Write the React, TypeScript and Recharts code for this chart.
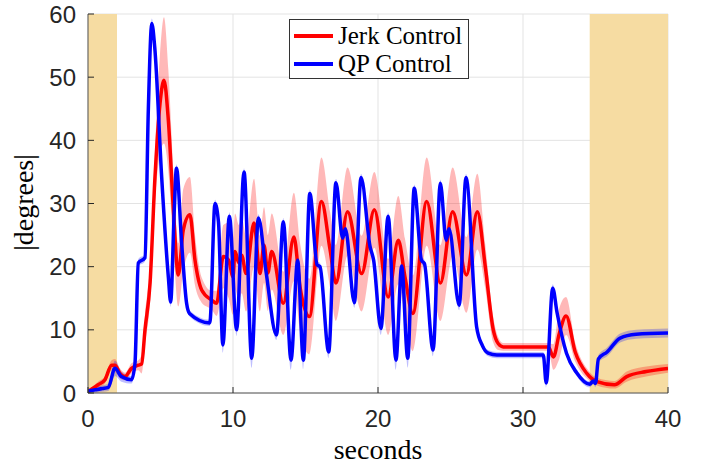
import React from 'react';
import { ComposedChart, Line, Area, XAxis, YAxis, CartesianGrid, ReferenceArea } from 'recharts';

// Jerk Control (red): time (s), |degrees|, band half-width
const redT = [0, 0.7, 1.17, 1.63, 1.86, 2.2, 2.55, 3.0, 3.47, 3.7, 3.93, 4.28, 4.62, 4.97, 5.24, 5.54, 5.89, 6.23, 6.57, 7.03, 7.38, 7.84, 8.53, 8.87, 9.33, 9.7, 10.0, 10.14, 10.4, 10.6, 10.9, 11.45, 11.86, 12.14, 12.4, 12.67, 13.47, 14.2, 14.62, 15.27, 16.1, 16.7, 17.1, 17.9, 18.87, 19.75, 20.7, 21.4, 21.86, 22.4, 23.36, 24.3, 25.15, 26.1, 26.85, 27.4, 27.95, 28.3, 28.64, 31.75, 32.1, 32.5, 32.97, 33.6, 34.4, 35.1, 36.3, 37.15, 38.5, 40];
const redV = [0.2, 1.3, 2.1, 4.4, 4.4, 3.1, 2.6, 3.9, 4.4, 4.6, 10, 17.4, 34.2, 45.9, 49.5, 43.2, 29, 18.7, 25.8, 28.2, 21, 16.3, 14.7, 14.2, 21.6, 21, 18.4, 22.4, 20.6, 21.8, 18.9, 26.9, 18.9, 23.4, 19, 22.4, 14.2, 24.7, 16.8, 12.1, 30.3, 22.6, 17.4, 28.7, 18.9, 29, 15.2, 24.2, 18.4, 12.6, 30.3, 17.4, 28.7, 18.7, 28.7, 20, 10, 7.8, 7.3, 7.3, 5.7, 9.4, 12.2, 6.5, 3.1, 1.8, 1.3, 2.6, 3.4, 3.9];
const redS = [0.3, 0.5, 0.6, 0.8, 1, 0.8, 0.6, 0.8, 0.8, 1.5, 2.5, 3, 4, 8, 10, 8, 6, 5, 6.5, 6, 4, 2, 1.5, 2, 5, 6, 6, 6, 6, 6, 6, 7, 6, 6, 6, 6, 5, 7, 7, 6, 7, 6, 6, 7, 6, 6, 6, 7, 6, 6, 7, 6, 7, 6, 6, 3.5, 2, 1, 0.6, 0.6, 2, 4, 3, 1.5, 0.8, 0.6, 0.6, 0.8, 0.8, 0.7];

// QP Control (blue)
const blueT = [0, 0.5, 1.0, 1.4, 1.86, 2.3, 3.0, 3.24, 3.47, 3.93, 4.16, 4.4, 4.6, 5.08, 5.54, 5.7, 5.95, 6.1, 6.46, 6.8, 7.0, 8.4, 8.76, 9.0, 9.3, 9.75, 10.25, 10.76, 11.29, 11.75, 12.28, 13.0, 13.47, 14.0, 14.46, 14.85, 15.3, 15.8, 16.0, 16.6, 17.1, 17.56, 17.75, 18.37, 18.83, 19.45, 19.7, 20.2, 20.7, 21.24, 21.63, 22.05, 22.5, 23.0, 23.2, 23.8, 24.3, 24.7, 24.9, 25.6, 26.07, 26.8, 27.2, 27.6, 28.2, 31.4, 31.6, 32.05, 32.35, 33.0, 33.7, 34.6, 34.85, 35.0, 35.2, 35.8, 36.7, 37.8, 40];
const blueV = [0.3, 0.5, 0.7, 0.9, 3.9, 2.6, 2.1, 4.7, 20.6, 21.4, 44.8, 58.5, 54.8, 34.2, 18.4, 14.4, 29, 35.6, 23.7, 14.2, 12.6, 11.1, 30, 27, 7.6, 28, 10, 35, 5.5, 27.7, 19.2, 9.2, 27.1, 5.2, 21, 5.2, 31.6, 20.3, 20, 6.5, 33.3, 24.5, 26, 14.3, 34.1, 23.2, 21, 10.2, 28, 5.2, 20.1, 5.5, 32.4, 21, 20.5, 6.8, 33.2, 24.2, 26, 13.9, 34.1, 10.5, 7.5, 6.3, 6.0, 6.0, 1.6, 16.6, 12.7, 6.3, 3.2, 1.4, 1.9, 1.5, 5.4, 6.5, 8.7, 9.3, 9.5];
const blueS = [0.4, 0.5, 0.5, 0.6, 1.2, 0.8, 0.6, 0.6, 0.6, 0.6, 0.8, 0.8, 0.8, 0.6, 0.6, 0.8, 0.6, 0.6, 0.6, 0.6, 0.5, 0.5, 0.6, 0.6, 1.2, 0.6, 1.0, 0.6, 1.5, 0.6, 0.6, 0.8, 0.6, 1.5, 0.6, 1.5, 0.6, 0.6, 0.6, 1.0, 0.6, 0.6, 0.6, 0.8, 0.6, 0.6, 0.6, 1.0, 0.6, 1.5, 0.6, 1.5, 0.6, 0.6, 0.6, 1.0, 0.6, 0.6, 0.6, 0.8, 0.6, 0.6, 0.5, 0.5, 0.5, 0.5, 0.8, 0.6, 0.6, 0.5, 0.5, 0.5, 0.5, 0.6, 0.6, 0.7, 0.7, 0.7, 0.7];

// shaded (yellow) time intervals
const shadeStart = [0, 34.6];
const shadeEnd = [2, 40];

const xTicks = [0, 10, 20, 30, 40];
const yTicks = [0, 10, 20, 30, 40, 50, 60];

const seriesNames = ['Jerk Control', 'QP Control'];
const seriesColors = ['#ff0000', '#0000ff'];

const redData = redT.map((t, i) => ({ t, v: redV[i], band: [redV[i] - redS[i], redV[i] + redS[i]] }));
const blueData = blueT.map((t, i) => ({ t, v: blueV[i], band: [Math.max(0, blueV[i] - blueS[i]), blueV[i] + blueS[i]] }));

const TXT = '#262626';
const SANS = '"Liberation Sans", Arial, Helvetica, sans-serif';
const SERIF = '"Liberation Serif", "DejaVu Serif", serif';

const YTick = (props: any) => {
  const { x, y, payload } = props;
  return (
    <g>
      <line x1={x + 12} y1={y} x2={x + 18} y2={y} stroke={TXT} strokeWidth={1} />
      <text x={x} y={y} textAnchor="end" dominantBaseline="central" fontSize={24} fontFamily={SANS} fill={TXT}>{payload.value}</text>
    </g>
  );
};

const XTick = (props: any) => {
  const { x, y, payload } = props;
  return (
    <g>
      <line x1={x} y1={y - 12} x2={x} y2={y - 18} stroke={TXT} strokeWidth={1} />
      <text x={x} y={y + 13} textAnchor="middle" dominantBaseline="central" fontSize={24} fontFamily={SANS} fill={TXT}>{payload.value}</text>
    </g>
  );
};

const LegendBox = () => (
  <div style={{ position: 'absolute', left: 289, top: 19, width: 180, height: 60, border: '1px solid #333', background: '#fff', boxSizing: 'border-box', fontFamily: SERIF, fontSize: 25, color: '#000' }}>
    {seriesNames.map((n, i) => (
      <div key={n} style={{ position: 'absolute', left: 4, top: i === 0 ? 2 : 30, height: 28, display: 'flex', alignItems: 'center', whiteSpace: 'nowrap', lineHeight: '28px' }}>
        <div style={{ width: 39, height: 3.5, background: seriesColors[i], marginRight: 5 }} />
        <span>{n}</span>
      </div>
    ))}
  </div>
);

export default function App() {
  return (
    <div style={{ position: 'absolute', left: 0, top: 0, width: 708, height: 468, background: '#fff' }}>
      <ComposedChart width={708} height={468} margin={{ top: 14, right: 40, bottom: 0, left: 0 }}>
        <CartesianGrid stroke="#e3e3e3" strokeWidth={1} verticalValues={xTicks} horizontalValues={yTicks} />
        {shadeStart.map((s, i) => (
          <ReferenceArea key={i} x1={s} x2={shadeEnd[i]} y1={0} y2={60} fill="#f6dca2" fillOpacity={1} stroke="none" ifOverflow="hidden" />
        ))}
        <XAxis type="number" dataKey="t" domain={[0, 40]} ticks={xTicks} height={75} allowDataOverflow
          axisLine={{ stroke: '#555', strokeWidth: 1 }} tickLine={false} tickSize={0} tickMargin={12} tick={<XTick />}
          label={{ content: (p: any) => { const vb = p.viewBox; return <text x={vb.x + vb.width / 2} y={vb.y + 56} textAnchor="middle" dominantBaseline="central" fontSize={28} fontFamily={SERIF} fill="#000">seconds</text>; } }} />
        <YAxis type="number" domain={[0, 60]} ticks={yTicks} width={88} allowDataOverflow
          axisLine={{ stroke: '#555', strokeWidth: 1 }} tickLine={false} tickSize={0} tickMargin={12} tick={<YTick />}
          label={{ content: (p: any) => { const vb = p.viewBox; const cy = vb.y + vb.height / 2 - 1; return <text x={23} y={cy} transform={`rotate(-90, 23, ${cy})`} textAnchor="middle" dominantBaseline="central" fontSize={28} fontFamily={SERIF} fill="#000">|degrees|</text>; } }} />
        <Area data={redData} dataKey="band" type="monotone" stroke="none" fill="#ff0000" fillOpacity={0.28} isAnimationActive={false} legendType="none" />
        <Area data={blueData} dataKey="band" type="monotone" stroke="none" fill="#0000ff" fillOpacity={0.25} isAnimationActive={false} legendType="none" />
        <Line data={redData} dataKey="v" type="monotone" stroke="#ff0000" strokeWidth={3.5} dot={false} isAnimationActive={false} />
        <Line data={blueData} dataKey="v" type="monotone" stroke="#0000ff" strokeWidth={3.5} dot={false} isAnimationActive={false} />
      </ComposedChart>
      <LegendBox />
    </div>
  );
}
